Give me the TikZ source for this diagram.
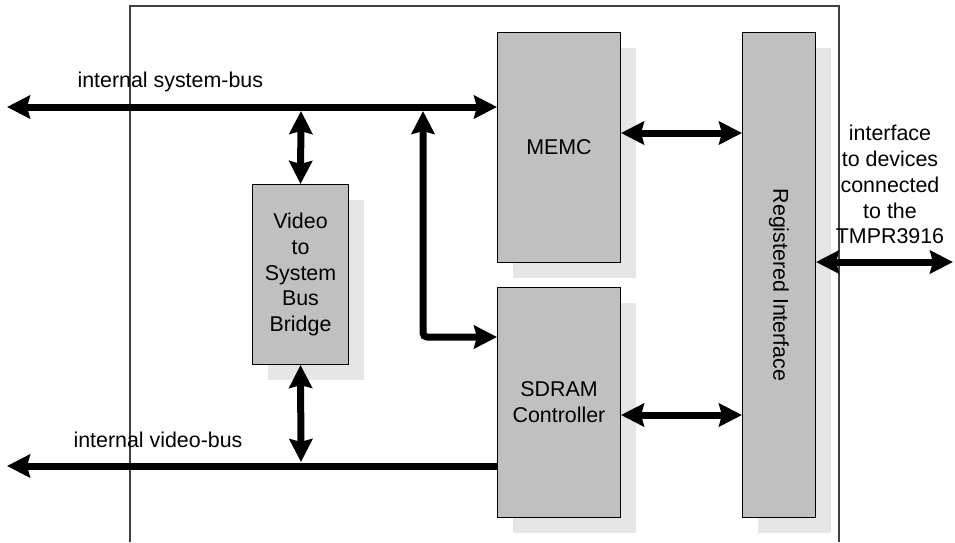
\documentclass[tikz,border=0pt]{standalone}
\usepackage{fontspec}
\setmainfont{Liberation Sans}
\usetikzlibrary{arrows.meta,shadows,positioning}
\definecolor{boxgray}{HTML}{C0C0C0}
\definecolor{shadegray}{HTML}{E6E6E6}
\definecolor{framegray}{HTML}{404040}
\begin{document}
\begin{tikzpicture}[x=1pt,y=-1pt,
  blk/.style={draw=black,line width=1pt,fill=boxgray,inner sep=0pt,align=center,
    drop shadow={shadow xshift=15pt,shadow yshift=-15pt,fill=shadegray,opacity=1}},
  txt/.style={font=\fontsize{21.4}{25.9}\selectfont},
  bus/.style={line width=7pt},
  tip/.tip={Stealth[length=23pt,width=23pt,inset=3pt]},
  dbl/.style={bus,{tip}-{tip}},
  sgl/.style={bus,-{tip}}]
\useasboundingbox (0,0) rectangle (955,542);
% frame
\draw[framegray,line width=1.5pt] (130,542) -- (130,6) -- (839,6) -- (839,542);
% blocks
\node[blk,txt,minimum width=123pt,minimum height=230pt,anchor=north west] (memc) at (497,32) {MEMC};
\node[blk,txt,minimum width=123pt,minimum height=230pt,anchor=north west] (sdram) at (497,287) {SDRAM\\Controller};
\node[blk,txt,minimum width=73pt,minimum height=485pt,anchor=north west] (ri) at (742,32) {\rotatebox{-90}{\hspace{20pt}Registered Interface}};
\node[blk,txt,minimum width=96pt,minimum height=180pt,anchor=north west] (vb) at (252,184) {Video\\to\\System\\Bus\\Bridge};
% bus coordinates
\coordinate (sysL) at (7,107);
\coordinate (sysJ1) at (301,111);
\coordinate (sysJ2) at (423,111);
\coordinate (vidL) at (7,466);
\coordinate (vidJ) at (301,462);
\coordinate (bend) at (423,337);
\coordinate (extR) at (953,262);
% buses
\draw[dbl] (sysL) -- (sysL -| memc.west);
\draw[sgl] (vidL -| sdram.west) -- (vidL);
\draw[dbl] (sysJ1) -- (vb.north);
\draw[dbl] (vb.south) -- (vidJ);
\draw[bus,rounded corners=4pt,{tip}-{tip}] (sysJ2) -- (bend) -- (bend -| sdram.west);
\draw[dbl] (memc.east |- 0,133) -- (ri.west |- 0,133);
\draw[dbl] (sdram.east |- 0,415) -- (ri.west |- 0,415);
\draw[dbl] (ri.east |- extR) -- (extR);
% labels
\node[txt,anchor=west] (lsys) at (74,82) {internal system-bus};
\node[txt,anchor=west] (lvid) at (70,440) {internal video-bus};
\node[txt,align=center] (lext) at (890,184.5) {interface\\to devices\\connected\\to the\\TMPR3916};
\end{tikzpicture}
\end{document}
